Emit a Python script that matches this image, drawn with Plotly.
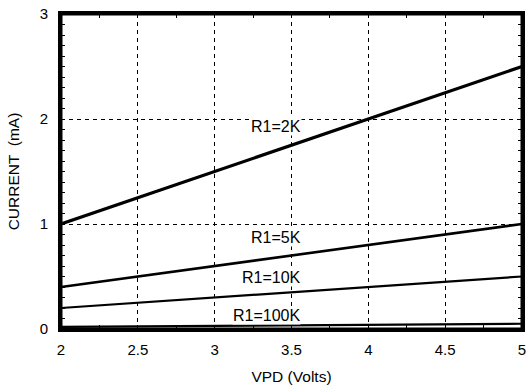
import plotly.graph_objects as go

vpd = [2, 5]
current_2k = [1.0, 2.5]
current_5k = [0.4, 1.0]
current_10k = [0.2, 0.5]
current_100k = [0.02, 0.05]

series_names = ["R1=2K", "R1=5K", "R1=10K", "R1=100K"]
series_values = [current_2k, current_5k, current_10k, current_100k]
line_widths = [3.2, 2.6, 2.2, 2.2]

# label positions (data units)
label_x = [3.40, 3.40, 3.37, 3.34]
label_y = [1.93, 0.87, 0.49, 0.125]

x_ticks = [2, 2.5, 3, 3.5, 4, 4.5, 5]
x_ticktext = ["2", "2.5", "3", "3.5", "4", "4.5", "5"]
y_ticks = [0, 1, 2, 3]

FONT = "Liberation Sans, Arial, Helvetica, sans-serif"

fig = go.Figure()
for name, vals, w in zip(series_names, series_values, line_widths):
    fig.add_trace(go.Scatter(x=vpd, y=vals, mode="lines", name=name,
                             line=dict(color="black", width=w), showlegend=False))

for name, lx, ly in zip(series_names, label_x, label_y):
    fig.add_annotation(x=lx, y=ly, text=name, showarrow=False,
                       font=dict(family=FONT, size=16, color="black"),
                       bgcolor="white", borderpad=0)

axis_common = dict(
    showline=True, linecolor="black", linewidth=3, mirror="ticks",
    ticks="inside", ticklen=4, tickcolor="black", tickwidth=1,
    showgrid=True, gridcolor="black", gridwidth=1, griddash="4px,4px",
    zeroline=False, automargin=False, ticklabeloverflow="allow",
    tickfont=dict(family=FONT, size=15, color="black"),
)

fig.update_xaxes(range=[2, 5], tickvals=x_ticks, ticktext=x_ticktext,
                 ticklabelstandoff=5,
                 minor=dict(dtick=0.25, tick0=2, ticks="inside", ticklen=4,
                            tickcolor="black", showgrid=False),
                 title=dict(text="VPD (Volts)", font=dict(family=FONT, size=15.5, color="black"), standoff=15),
                 **axis_common)
fig.update_yaxes(range=[0, 3], tickvals=y_ticks,
                 ticklabelstandoff=7,
                 minor=dict(dtick=0.1, tick0=0, ticks="inside", ticklen=4,
                            tickcolor="black", showgrid=False),
                 title=dict(text="CURRENT  (mA)", font=dict(family=FONT, size=15.5, color="black"), standoff=17),
                 **axis_common)

fig.add_shape(type="rect", xref="paper", yref="paper", x0=0, y0=0, x1=1, y1=1,
              line=dict(color="black", width=3), layer="above")

fig.update_layout(
    width=531, height=386,
    margin=dict(l=61, r=9, t=14, b=57),
    paper_bgcolor="white", plot_bgcolor="white",
    font=dict(family=FONT, color="black"),
)

# remove the browser's default 8px body margin so the figure fills the window
fig.write_html("out.html",
               config={"displayModeBar": False},
               post_script="document.body.style.margin='0';document.body.style.overflow='hidden';")
